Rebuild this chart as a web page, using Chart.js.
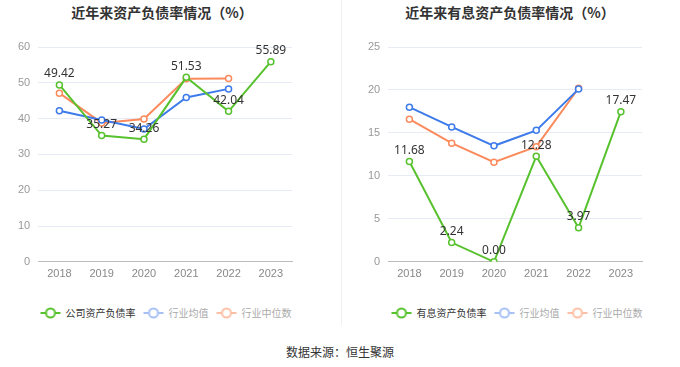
<!DOCTYPE html>
<html>
<head>
<meta charset="utf-8">
<script src="https://cdn.jsdelivr.net/npm/chart.js@4/dist/chart.umd.min.js"></script>
<style>
  html, body { margin: 0; padding: 0; background: #fff; }
  body { width: 680px; height: 367px; position: relative; overflow: hidden;
         font-family: "Noto Sans CJK SC", "Noto Sans", sans-serif; }
  .title { position: absolute; top: 2px; font-size: 14px; font-weight: bold; color: #333;
           transform: translateX(-50%); white-space: nowrap; }
  canvas { position: absolute; top: 0; }
  .divider { position: absolute; left: 341px; top: 0; width: 1px; height: 325px; background: #f0f0f0; }
  .legend { position: absolute; top: 305px; transform: translateX(-50%); white-space: nowrap;
            font-size: 10px; line-height: 16px; display: flex; }
  .legend .item { display: flex; align-items: center; margin-right: 8px; }
  .legend .item:last-child { margin-right: 0; }
  .legend canvas { position: static; margin-right: 5px; }
  .source { position: absolute; top: 343px; left: 340px; transform: translateX(-50%);
            font-size: 12px; color: #333; white-space: nowrap; }
</style>
</head>
<body>
<div class="title" style="left:162px">近年来资产负债率情况（%）</div>
<div class="title" style="left:510px">近年来有息资产负债率情况（%）</div>
<div class="divider"></div>
<canvas id="leftChart" width="340" height="290" style="left:0"></canvas>
<canvas id="rightChart" width="340" height="290" style="left:340px"></canvas>
<div class="legend" id="leftLegend" style="left:166px"></div>
<div class="legend" id="rightLegend" style="left:517px"></div>
<div class="source">数据来源：恒生聚源</div>
<script>
const years = ['2018', '2019', '2020', '2021', '2022', '2023'];

// 资产负债率
const companyDebt = [49.42, 35.27, 34.26, 51.53, 42.04, 55.89];
const industryAvgDebt = [42.2, 39.6, 37.1, 45.9, 48.3, null];
const industryMedDebt = [47.1, 38.8, 39.9, 51.1, 51.2, null];

// 有息资产负债率
const companyIntDebt = [11.68, 2.24, 0.00, 12.28, 3.97, 17.47];
const industryAvgIntDebt = [18.0, 15.7, 13.5, 15.3, 20.1, null];
const industryMedIntDebt = [16.6, 13.8, 11.6, 13.4, 20.2, null];

const GREEN = '#58c22e', BLUE = '#3d7bea', ORANGE = '#fb8a5c';
const LIGHT_BLUE = '#a7c1f5', LIGHT_ORANGE = '#fdc0a6';
const legendColors = [GREEN, LIGHT_BLUE, LIGHT_ORANGE];
const legendText = ['#333', '#aaa', '#aaa'];

function legendIcon(color) {
  const c = document.createElement('canvas');
  c.width = 20; c.height = 12;
  const ctx = c.getContext('2d');
  ctx.strokeStyle = color;
  ctx.lineWidth = 2;
  ctx.beginPath(); ctx.moveTo(0, 6); ctx.lineTo(20, 6); ctx.stroke();
  ctx.fillStyle = '#fff';
  ctx.beginPath(); ctx.arc(10, 6, 4.5, 0, Math.PI * 2); ctx.fill(); ctx.stroke();
  return c;
}

// html legend built from the chart's datasets
function htmlLegend(containerId) {
  return {
    id: 'htmlLegend',
    afterInit(chart) {
      const box = document.getElementById(containerId);
      box.innerHTML = '';
      chart.data.datasets.forEach((ds, i) => {
        const item = document.createElement('div');
        item.className = 'item';
        item.appendChild(legendIcon(legendColors[i]));
        const span = document.createElement('span');
        span.textContent = ds.label;
        span.style.color = legendText[i];
        item.appendChild(span);
        box.appendChild(item);
      });
    }
  };
}

const valueLabels = {
  id: 'valueLabels',
  afterDatasetsDraw(chart) {
    const ctx = chart.ctx;
    const meta = chart.getDatasetMeta(0);
    const data = chart.data.datasets[0].data;
    ctx.save();
    ctx.font = '12px "Noto Sans", "DejaVu Sans", sans-serif';
    ctx.fillStyle = '#333';
    ctx.textAlign = 'center';
    ctx.textBaseline = 'bottom';
    meta.data.forEach((pt, i) => {
      ctx.fillText(data[i].toFixed(2), pt.x, pt.y - 5);
    });
    ctx.restore();
  }
};

function series(label, data, color) {
  return {
    label, data,
    borderColor: color, backgroundColor: '#fff',
    borderWidth: 2, pointRadius: 3, pointHoverRadius: 3,
    pointBorderWidth: 1.5, pointBackgroundColor: '#fff',
    tension: 0, spanGaps: false
  };
}

function makeChart(id, legendId, firstLabel, d1, d2, d3, max, step, pad) {
  return new Chart(document.getElementById(id), {
    type: 'line',
    data: {
      labels: years,
      datasets: [
        series(firstLabel, d1, GREEN),
        series('行业均值', d2, BLUE),
        series('行业中位数', d3, ORANGE)
      ]
    },
    options: {
      responsive: false, animation: false,
      layout: { padding: pad },
      plugins: {
        tooltip: { enabled: false },
        legend: { display: false }
      },
      scales: {
        x: {
          offset: true,
          grid: { display: false, drawTicks: false },
          border: { color: '#bbb', width: 1 },
          ticks: { color: '#888', padding: 6, font: { size: 11 } }
        },
        y: {
          min: 0, max: max,
          grid: { color: '#e6ebf5', drawTicks: false },
          border: { display: false },
          ticks: { stepSize: step, color: '#999', padding: 8, font: { size: 11 } }
        }
      }
    },
    plugins: [valueLabels, htmlLegend(legendId)]
  });
}

makeChart('leftChart', 'leftLegend', '公司资产负债率', companyDebt, industryAvgDebt, industryMedDebt, 60, 10,
  { left: 10, right: 48, top: 47, bottom: 3 });
makeChart('rightChart', 'rightLegend', '有息资产负债率', companyIntDebt, industryAvgIntDebt, industryMedIntDebt, 25, 5,
  { left: 20, right: 38, top: 47, bottom: 3 });
</script>
</body>
</html>
